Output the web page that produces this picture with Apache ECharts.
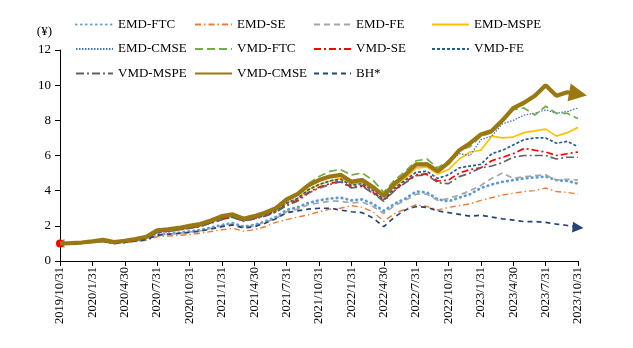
<!DOCTYPE html>
<html>
<head>
<meta charset="utf-8">
<script src="https://cdn.jsdelivr.net/npm/echarts@6/dist/echarts.min.js"></script>
<style>html,body{margin:0;padding:0;background:#fff;}#c{width:633px;height:348px;}</style>
</head>
<body>
<div id="c"></div>
<script>
// Month-end dates (categories); every third one is labelled
const dates = ["2019/10/31","2019/11/30","2019/12/31","2020/1/31","2020/2/29","2020/3/31","2020/4/30","2020/5/31","2020/6/30","2020/7/31","2020/8/31","2020/9/30","2020/10/31","2020/11/30","2020/12/31","2021/1/31","2021/2/28","2021/3/31","2021/4/30","2021/5/31","2021/6/30","2021/7/31","2021/8/31","2021/9/30","2021/10/31","2021/11/30","2021/12/31","2022/1/31","2022/2/28","2022/3/31","2022/4/30","2022/5/31","2022/6/30","2022/7/31","2022/8/31","2022/9/30","2022/10/31","2022/11/30","2022/12/31","2023/1/31","2023/2/28","2023/3/31","2023/4/30","2023/5/31","2023/6/30","2023/7/31","2023/8/31","2023/9/30","2023/10/31"];

const emdFTC  = [1.00,1.02,1.04,1.08,1.12,1.02,1.08,1.15,1.25,1.50,1.55,1.60,1.68,1.75,1.90,2.05,2.15,1.95,2.05,2.25,2.50,2.90,3.05,3.30,3.45,3.55,3.60,3.45,3.50,3.25,2.85,3.25,3.55,3.95,3.90,3.50,3.40,3.60,3.80,4.15,4.35,4.50,4.60,4.70,4.75,4.80,4.60,4.55,4.40];
const emdSE   = [1.00,1.01,1.03,1.06,1.08,0.98,1.03,1.10,1.18,1.38,1.42,1.46,1.50,1.58,1.68,1.78,1.86,1.70,1.78,1.95,2.20,2.35,2.50,2.62,2.80,2.95,3.00,3.15,3.05,2.80,2.25,2.70,2.95,3.20,3.10,2.90,3.05,3.15,3.25,3.45,3.60,3.75,3.85,3.95,4.00,4.15,3.95,3.90,3.80];
const emdFE   = [1.00,1.02,1.04,1.08,1.12,1.02,1.08,1.15,1.24,1.48,1.53,1.58,1.65,1.72,1.86,2.00,2.10,1.92,2.00,2.20,2.42,2.80,2.95,3.20,3.30,3.40,3.40,3.30,3.35,3.10,2.70,3.15,3.45,3.80,3.80,3.45,3.55,3.75,4.00,4.30,4.70,5.00,4.70,4.80,4.85,4.90,4.60,4.65,4.60];
const emdMSPE = [1.00,1.02,1.05,1.10,1.16,1.05,1.12,1.20,1.32,1.65,1.72,1.80,1.90,2.00,2.20,2.40,2.55,2.30,2.45,2.62,2.85,3.30,3.55,4.05,4.35,4.55,4.70,4.35,4.45,4.05,3.65,4.25,4.70,5.30,5.35,4.95,5.20,5.80,6.20,6.30,7.10,7.00,7.05,7.30,7.40,7.50,7.10,7.30,7.60];
const emdCMSE = [1.00,1.02,1.05,1.10,1.18,1.06,1.13,1.22,1.35,1.70,1.76,1.84,1.95,2.05,2.25,2.50,2.60,2.35,2.50,2.70,2.95,3.40,3.70,4.20,4.55,4.85,4.95,4.60,4.70,4.30,3.75,4.45,4.95,5.55,5.60,5.20,5.60,6.10,6.00,6.90,7.10,7.80,8.00,8.30,8.40,8.60,8.40,8.50,8.70];
const vmdFTC  = [1.00,1.02,1.05,1.10,1.17,1.05,1.12,1.22,1.35,1.68,1.75,1.83,1.95,2.05,2.25,2.50,2.60,2.35,2.50,2.70,3.00,3.45,3.80,4.40,4.80,5.10,5.20,4.90,5.00,4.60,3.90,4.60,5.10,5.70,5.80,5.30,5.70,6.30,6.50,7.10,7.30,8.00,8.60,8.70,8.30,8.80,8.40,8.40,8.10];
const vmdSE   = [1.00,1.02,1.05,1.10,1.15,1.04,1.11,1.19,1.30,1.64,1.70,1.78,1.88,1.98,2.18,2.38,2.50,2.28,2.42,2.58,2.80,3.20,3.45,3.90,4.20,4.40,4.55,4.20,4.30,3.90,3.45,4.05,4.50,4.90,4.95,4.55,4.60,5.00,5.20,5.30,5.70,5.90,6.10,6.40,6.30,6.20,6.00,6.10,6.20];
const vmdFE   = [1.00,1.02,1.05,1.10,1.16,1.04,1.11,1.20,1.32,1.66,1.72,1.80,1.92,2.02,2.20,2.42,2.55,2.30,2.45,2.62,2.85,3.30,3.55,4.05,4.35,4.55,4.65,4.30,4.40,4.00,3.50,4.15,4.60,5.05,5.10,4.70,4.90,5.30,5.40,5.50,6.10,6.30,6.60,6.90,7.00,7.00,6.70,6.80,6.50];
const vmdMSPE = [1.00,1.02,1.05,1.10,1.15,1.03,1.10,1.18,1.30,1.62,1.68,1.76,1.86,1.96,2.15,2.35,2.48,2.25,2.40,2.55,2.78,3.15,3.40,3.85,4.15,4.35,4.50,4.15,4.25,3.85,3.40,4.00,4.45,4.85,4.90,4.45,4.40,4.80,5.00,5.30,5.40,5.60,5.90,6.00,6.00,6.00,5.80,5.90,5.90];
const vmdCMSE = [1.00,1.02,1.05,1.12,1.20,1.08,1.15,1.25,1.38,1.75,1.80,1.88,2.00,2.10,2.30,2.55,2.65,2.40,2.55,2.75,3.00,3.50,3.80,4.30,4.60,4.80,4.90,4.50,4.60,4.20,3.70,4.40,4.90,5.50,5.50,5.10,5.60,6.30,6.70,7.20,7.40,8.00,8.70,9.00,9.40,10.00,9.40,9.60,9.50];
const bh      = [1.00,1.02,1.04,1.08,1.12,1.00,1.06,1.14,1.22,1.47,1.52,1.57,1.63,1.70,1.82,1.95,2.05,1.88,1.95,2.15,2.40,2.75,2.85,2.95,3.00,3.00,2.90,2.80,2.75,2.45,1.95,2.50,2.90,3.10,3.05,2.85,2.75,2.65,2.55,2.60,2.50,2.40,2.33,2.24,2.24,2.20,2.10,2.02,1.90];

const seriesNames = ["EMD-FTC","EMD-SE","EMD-FE","EMD-MSPE","EMD-CMSE","VMD-FTC","VMD-SE","VMD-FE","VMD-MSPE","VMD-CMSE","BH*"];
const seriesValues = [emdFTC, emdSE, emdFE, emdMSPE, emdCMSE, vmdFTC, vmdSE, vmdFE, vmdMSPE, vmdCMSE, bh];

const styles = [
  {color:'#5B9BD5', width:2.8, type:[0.5,4.5], cap:'round'},
  {color:'#ED7D31', width:1.4, type:[6,3,1.5,3]},
  {color:'#A5A5A5', width:1.7, type:[6,4]},
  {color:'#FFC000', width:1.7, type:'solid'},
  {color:'#4472C4', width:1.3, type:[1.5,1.5]},
  {color:'#70AD47', width:1.7, type:[8,4]},
  {color:'#FF0000', width:1.7, type:[7,3,2,3]},
  {color:'#255E91', width:1.7, type:[3,2]},
  {color:'#636363', width:1.7, type:[8,3,2,3]},
  {color:'#9A7810', width:4.2, type:'solid'},
  {color:'#264478', width:1.7, type:[5,4]}
];
// marker decorations: [index, symbol, size, rotate]
const marks = {
  "VMD-FTC": [[0,'triangle',9,90]],
  "VMD-SE": [[0,'circle',8,0]],
  "VMD-CMSE": [[48,'triangle',18,-100]],
  "BH*": [[48,'triangle',11,-95]]
};

const series = seriesNames.map((name, i) => {
  const st = styles[i];
  const m = marks[name] || [];
  const data = seriesValues[i].map((v, k) => {
    const mk = m.find(e => e[0] === k);
    if (mk) return {value: v, symbol: mk[1], symbolSize: mk[2], symbolRotate: mk[3], itemStyle:{color: st.color, opacity:1}};
    return v;
  });
  return {
    name, type:'line', data, symbol:'none', showSymbol:true, showAllSymbol:true,
    itemStyle:{color: st.color},
    lineStyle:{color: st.color, width: st.width, type: st.type, cap: st.cap || 'butt'},
    emphasis:{disabled:true}, z: i === 9 ? 5 : 3
  };
});

const font = 'Liberation Serif, Times New Roman, serif';
const cols = [["EMD-FTC","EMD-CMSE","VMD-MSPE"],["EMD-SE","VMD-FTC","VMD-CMSE"],["EMD-FE","VMD-SE","BH*"],["EMD-MSPE","VMD-FE"]];
const colLeft = [75, 194, 313, 431];
const legends = cols.map((c, i) => ({
  data: c, left: colLeft[i], top: 13, padding:[5,0,5,0], orient:'vertical', itemWidth:37, itemHeight:14, itemGap:11.5,
  itemStyle:{opacity:0},
  textStyle:{fontFamily: font, fontSize:13, color:'#000'}, selectedMode:false
}));

const chart = echarts.init(document.getElementById('c'));
chart.setOption({
  animation:false,
  backgroundColor:'#fff',
  legend: legends,
  grid:{left:60, right:55, top:50, bottom:87, containLabel:false},
  xAxis:{
    type:'category', data: dates, boundaryGap:false,
    axisLine:{lineStyle:{color:'#000', width:1}},
    axisTick:{interval:2, length:5, lineStyle:{color:'#000'}},
    axisLabel:{interval:2, rotate:90, fontFamily: font, fontSize:12.5, color:'#000', margin:6},
    splitLine:{show:false}
  },
  yAxis:{
    type:'value', min:0, max:12, interval:2,
    name:'(¥)', nameLocation:'end', nameGap:12,
    nameTextStyle:{fontFamily: font, fontSize:13, color:'#000', align:'right', padding:[0,8,0,0]},
    axisLine:{show:true, lineStyle:{color:'#000', width:1}},
    axisTick:{show:true, length:5, lineStyle:{color:'#000'}},
    axisLabel:{fontFamily: font, fontSize:13, color:'#000', margin:9},
    splitLine:{show:false}
  },
  series
});
</script>
</body>
</html>
